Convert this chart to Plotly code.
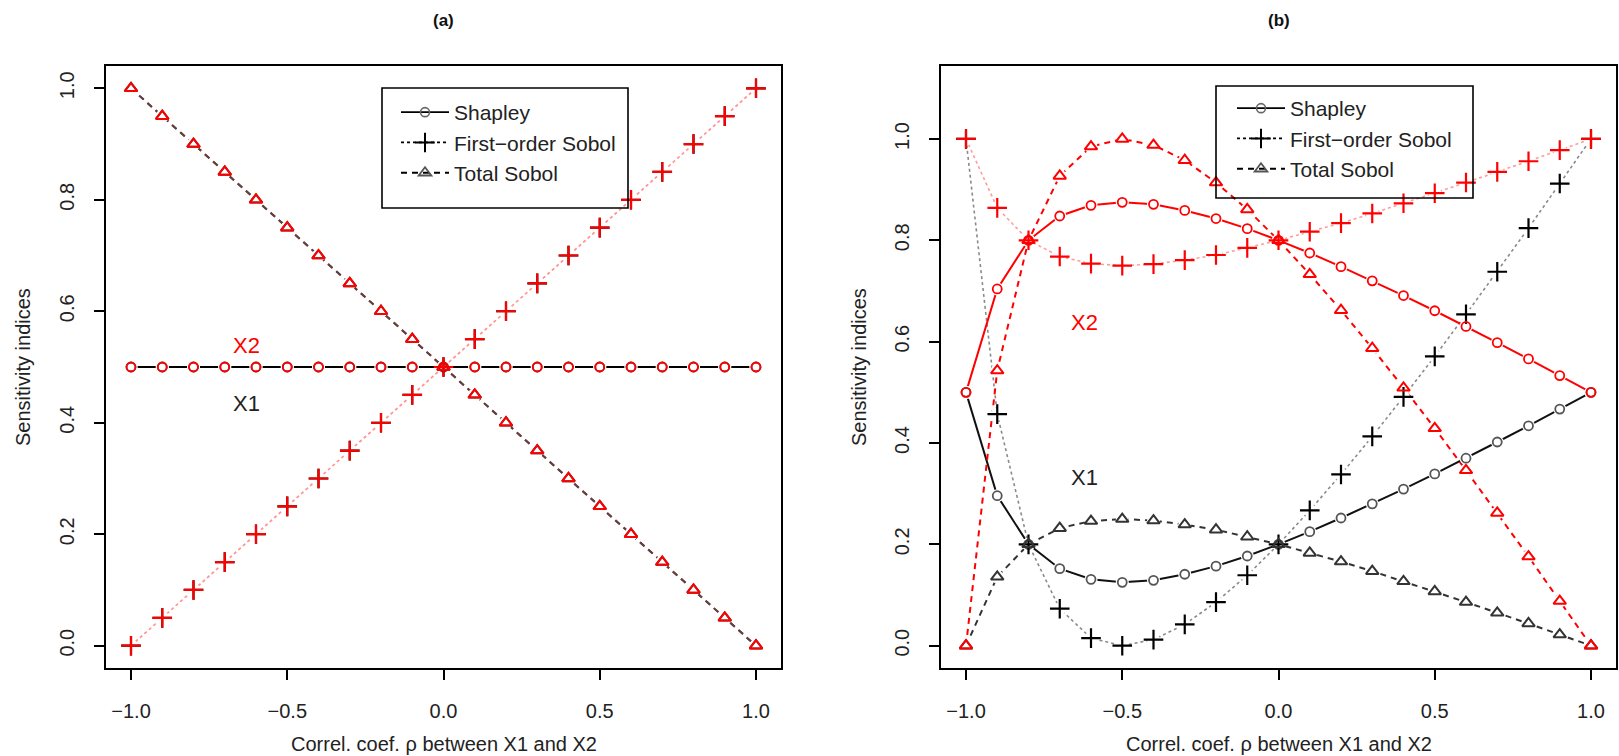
import plotly.graph_objects as go

# Correlation coefficient between the two inputs
rho = [-1.0, -0.9, -0.8, -0.7, -0.6, -0.5, -0.4, -0.3, -0.2, -0.1, 0.0,
       0.1, 0.2, 0.3, 0.4, 0.5, 0.6, 0.7, 0.8, 0.9, 1.0]

# Panel (a): inputs with equal variance (X1 and X2 give the same indices)
a_shapley = [0.5, 0.5, 0.5, 0.5, 0.5, 0.5, 0.5, 0.5, 0.5, 0.5, 0.5,
             0.5, 0.5, 0.5, 0.5, 0.5, 0.5, 0.5, 0.5, 0.5, 0.5]
a_first = [0.0, 0.05, 0.1, 0.15, 0.2, 0.25, 0.3, 0.35, 0.4, 0.45, 0.5,
           0.55, 0.6, 0.65, 0.7, 0.75, 0.8, 0.85, 0.9, 0.95, 1.0]
a_total = [1.0, 0.95, 0.9, 0.85, 0.8, 0.75, 0.7, 0.65, 0.6, 0.55, 0.5,
           0.45, 0.4, 0.35, 0.3, 0.25, 0.2, 0.15, 0.1, 0.05, 0.0]

# Panel (b): X2 has the larger variance
b_x1_shapley = [0.5, 0.296, 0.2, 0.152, 0.131, 0.125, 0.129, 0.141, 0.157, 0.177, 0.2,
                0.225, 0.252, 0.280, 0.309, 0.339, 0.370, 0.402, 0.434, 0.467, 0.5]
b_x1_first = [1.0, 0.457, 0.2, 0.073, 0.015, 0.0, 0.012, 0.042, 0.086, 0.139, 0.2,
              0.267, 0.338, 0.413, 0.491, 0.571, 0.654, 0.738, 0.824, 0.912, 1.0]
b_x1_total = [0.0, 0.136, 0.2, 0.232, 0.246, 0.25, 0.247, 0.239, 0.229, 0.215, 0.2,
              0.183, 0.166, 0.147, 0.127, 0.107, 0.086, 0.065, 0.044, 0.022, 0.0]
b_x2_shapley = [0.5, 0.704, 0.8, 0.848, 0.869, 0.875, 0.871, 0.859, 0.843, 0.823, 0.8,
                0.775, 0.748, 0.720, 0.691, 0.661, 0.630, 0.598, 0.566, 0.533, 0.5]
b_x2_first = [1.0, 0.864, 0.8, 0.768, 0.754, 0.75, 0.753, 0.761, 0.771, 0.785, 0.8,
              0.817, 0.834, 0.853, 0.873, 0.893, 0.914, 0.935, 0.956, 0.978, 1.0]
b_x2_total = [0.0, 0.543, 0.8, 0.927, 0.985, 1.0, 0.988, 0.958, 0.914, 0.861, 0.8,
              0.733, 0.662, 0.587, 0.509, 0.429, 0.346, 0.262, 0.176, 0.088, 0.0]

x_tickvals = [-1.0, -0.5, 0.0, 0.5, 1.0]
x_ticktext = ["\u22121.0", "\u22120.5", "0.0", "0.5", "1.0"]
y_tickvals = [0.0, 0.2, 0.4, 0.6, 0.8, 1.0]
y_ticktext = ["0.0", "0.2", "0.4", "0.6", "0.8", "1.0"]

legend_names = ["Shapley", "First\u2212order Sobol", "Total Sobol"]
panel_titles = ["(a)", "(b)"]
x_title = "Correl. coef. \u03c1 between X1 and X2"
y_title = "Sensitivity indices"

W, H = 1619, 756
FONT = "Liberation Sans, Arial, sans-serif"
TXT = "#222222"
RED = "#ff0000"

# marker styles per index type
MARK = {
    "shapley": dict(symbol="circle-open", size=9, lw=1.8),
    "first": dict(symbol="cross-thin-open", size=14, lw=2.2),
    "total": dict(symbol="triangle-up-open", size=11, lw=2.0),
}
DASH = {"shapley": "solid", "first": "dot", "total": "6px,5px"}
LW = {"shapley": 2.0, "first": 1.6, "total": 2.0}

# (axis suffix, values, kind, line colour, marker colour)
series = [
    # panel (a)
    ("", a_shapley, "shapley", RED, "#444444"),
    ("", a_shapley, "shapley", "#000000", RED),
    ("", a_first, "first", "rgba(255,140,140,0.7)", "#000000"),
    ("", a_first, "first", "rgba(255,140,140,0.7)", RED),
    ("", a_total, "total", RED, "#333333"),
    ("", a_total, "total", "#4a4a4a", RED),
    # panel (b)
    ("2", b_x1_shapley, "shapley", "#111111", "#555555"),
    ("2", b_x1_first, "first", "#8a8a8a", "#000000"),
    ("2", b_x1_total, "total", "#333333", "#333333"),
    ("2", b_x2_shapley, "shapley", RED, RED),
    ("2", b_x2_first, "first", "rgba(255,90,90,0.6)", RED),
    ("2", b_x2_total, "total", RED, RED),
]

fig = go.Figure()

# connecting lines
for ax, vals, kind, lcol, mcol in series:
    fig.add_trace(go.Scatter(
        x=rho, y=vals, mode="lines", xaxis="x" + ax, yaxis="y" + ax,
        line=dict(color=lcol, width=LW[kind], dash=DASH[kind]),
        showlegend=False, hoverinfo="skip"))

# small gaps around each point, as in a "both" type plot
for ax, vals, kind, lcol, mcol in series:
    fig.add_trace(go.Scatter(
        x=rho, y=vals, mode="markers", xaxis="x" + ax, yaxis="y" + ax,
        marker=dict(symbol="circle", size=13, color="white", line=dict(width=0)),
        showlegend=False, hoverinfo="skip"))

# point symbols
for ax, vals, kind, lcol, mcol in series:
    m = MARK[kind]
    fig.add_trace(go.Scatter(
        x=rho, y=vals, mode="markers", xaxis="x" + ax, yaxis="y" + ax,
        marker=dict(symbol=m["symbol"], size=m["size"], color=mcol,
                    line=dict(width=m["lw"], color=mcol)),
        showlegend=False))

# legend entries for both panels
legend_marker_col = {"shapley": "#666666", "first": "#000000", "total": "#555555"}
for leg in ["legend", "legend2"]:
    for name, kind in zip(legend_names, ["shapley", "first", "total"]):
        m = MARK[kind]
        fig.add_trace(go.Scatter(
            x=[None], y=[None], mode="lines+markers", name=name, legend=leg,
            xaxis="x" if leg == "legend" else "x2",
            yaxis="y" if leg == "legend" else "y2",
            line=dict(color="#000000", width=1.8, dash=DASH[kind]),
            marker=dict(symbol=m["symbol"], size=m["size"],
                        color=legend_marker_col[kind],
                        line=dict(width=m["lw"] - 0.2, color=legend_marker_col[kind]))))

# plot boxes in pixel terms
box_a = (106, 781)
box_b = (941, 1616)
box_top, box_bot = 66, 668
ydom = [1 - box_bot / H, 1 - box_top / H]

def xaxis_cfg(box, anchor):
    return dict(domain=[box[0] / W, box[1] / W], anchor=anchor, range=[-1.08, 1.08],
                tickvals=x_tickvals, ticktext=x_ticktext, ticks="outside",
                ticklen=10, tickwidth=1.5, tickcolor="black",
                showline=True, linecolor="black", linewidth=1.5, mirror=True,
                showgrid=False, zeroline=False, ticklabelstandoff=14,
                tickfont=dict(family=FONT, size=20, color=TXT))

def yaxis_cfg(rng, anchor):
    return dict(domain=ydom, anchor=anchor, range=rng,
                tickvals=y_tickvals, ticktext=y_ticktext, ticks="outside",
                ticklen=10, tickwidth=1.5, tickcolor="black", tickangle=-90,
                showline=True, linecolor="black", linewidth=1.5, mirror=True,
                showgrid=False, zeroline=False, ticklabelstandoff=12,
                tickfont=dict(family=FONT, size=20, color=TXT))

legend_common = dict(bgcolor="rgba(0,0,0,0)", borderwidth=0,
                     font=dict(family=FONT, size=21, color=TXT),
                     xanchor="left", yanchor="top", itemwidth=48,
                     tracegroupgap=0)

def paper_text(x, y, text, size, color=TXT, angle=0):
    return dict(x=x, y=y, xref="paper", yref="paper", text=text, showarrow=False,
                xanchor="center", yanchor="middle", textangle=angle,
                font=dict(family=FONT, size=size, color=color))

annotations = []
for box, title in zip([box_a, box_b], panel_titles):
    cx = (box[0] + box[1]) / 2 / W
    annotations.append(paper_text(cx, 1 - 20 / H, "<b>" + title + "</b>", 17, "#111111"))
    annotations.append(paper_text(cx, 1 - 744 / H, x_title, 20))
for px in [23, 859]:
    annotations.append(paper_text(px / W, sum(ydom) / 2, y_title, 20, angle=-90))

# X1 / X2 labels inside the panels
def data_text(ax, x, y, text, color):
    return dict(x=x, y=y, xref="x" + ax, yref="y" + ax, text=text, showarrow=False,
                xanchor="center", yanchor="middle",
                font=dict(family=FONT, size=22, color=color))

annotations += [
    data_text("", -0.63, 0.538, "X2", RED),
    data_text("", -0.63, 0.435, "X1", TXT),
    data_text("2", -0.62, 0.637, "X2", RED),
    data_text("2", -0.62, 0.331, "X1", TXT),
]

# legend frames
shapes = []
for (l, r, t, b) in [(382, 628, 88, 208), (1216, 1473, 86, 198)]:
    shapes.append(dict(type="rect", xref="paper", yref="paper",
                       x0=l / W, x1=r / W, y0=1 - b / H, y1=1 - t / H,
                       line=dict(color="black", width=1.6), layer="above"))

fig.update_layout(
    width=W, height=H, margin=dict(l=0, r=0, t=0, b=0),
    paper_bgcolor="white", plot_bgcolor="white",
    xaxis=xaxis_cfg(box_a, "y"), yaxis=yaxis_cfg([-0.04, 1.04], "x"),
    xaxis2=xaxis_cfg(box_b, "y2"), yaxis2=yaxis_cfg([-0.044, 1.144], "x2"),
    legend=dict(x=396 / W, y=1 - 92 / H, **legend_common),
    legend2=dict(x=1232 / W, y=1 - 88 / H, **legend_common),
    annotations=annotations, shapes=shapes, showlegend=True,
)

fig.write_html("out.html")
